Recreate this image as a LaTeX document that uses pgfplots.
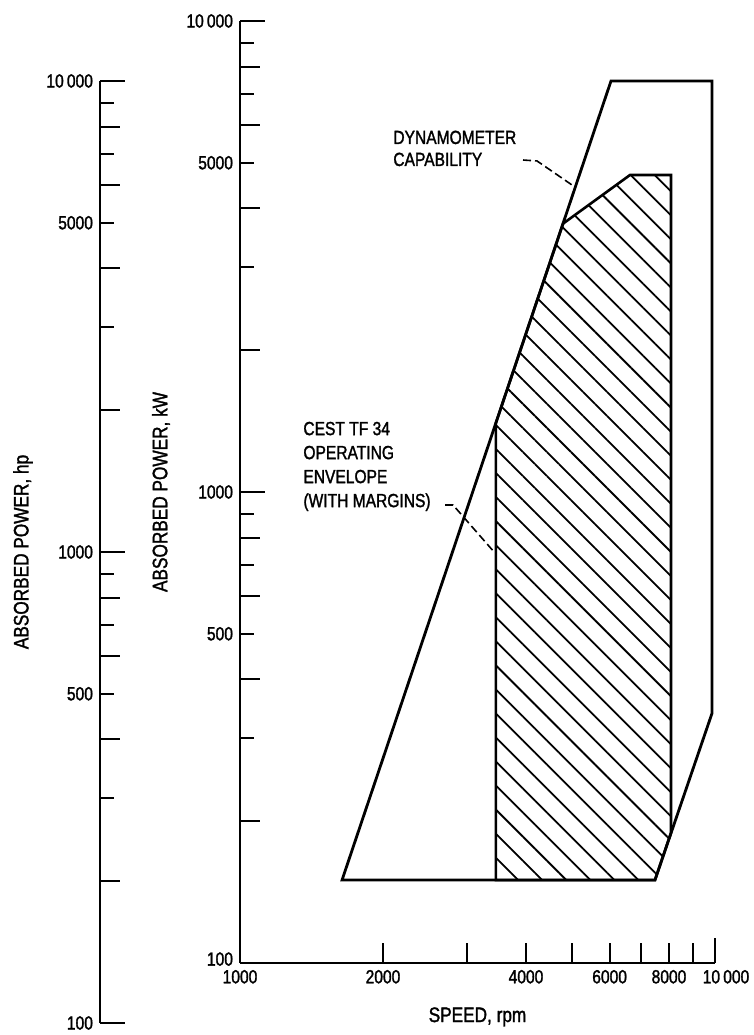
\documentclass[border=0pt]{standalone}
\usepackage{fontspec}
\setmainfont{Liberation Sans}[FakeStretch=0.82, FakeBold=1.5]
\usepackage{pgfplots}
\pgfplotsset{compat=1.18}
\usetikzlibrary{patterns.meta}

\begin{document}
\begin{tikzpicture}
\useasboundingbox (-120pt,-36pt) rectangle (257pt,481.5pt);

% horsepower scale
\begin{axis}[scale only axis, at={(-70pt,-30pt)}, anchor=south west,
  width=1pt, height=471pt, xmin=0, xmax=1, axis x line=none,
  ymode=log, ymin=100, ymax=10000,
  axis y line=left, tick align=inside,
  axis line style={-, line width=1pt},
  every tick/.style={black, line width=1pt},
  major tick length=12.5pt, minor tick length=10pt,
  ytick={100,1000,10000}, yticklabels={100,1000,10\,000},
  minor ytick={200,400,600,800,2000,4000,6000,8000},
  extra y ticks={300,500,700,900,3000,5000,7000,9000},
  extra y tick labels={,500,,,,5000,,},
  extra y tick style={major tick length=7pt},
  ticklabel style={font=\fontsize{9.5}{11}\selectfont},
  /pgf/number format/assume math mode=true,
  ylabel={ABSORBED POWER, hp},
  every axis y label/.style={at={(axis description cs:-38.5,0.5)},
    rotate=90, anchor=center, inner sep=0pt, font=\fontsize{10.5}{12}\selectfont}]
\addplot[draw=none] coordinates {(0.5,1000)};
\end{axis}

% short speed ticks at 3000, 5000, 7000, 9000
\begin{axis}[scale only axis, at={(0pt,0pt)}, anchor=south west,
  width=237.5pt, height=471pt,
  xmode=log, xmin=1000, xmax=10000, axis x line=bottom,
  ymode=log, ymin=100, ymax=10000, axis y line=none,
  tick align=inside, axis line style={-, line width=1pt},
  every tick/.style={black, line width=1pt},
  major tick length=4.5pt, minor xtick={},
  xtick={3000,5000,7000,9000}, xticklabels={}]
\addplot[draw=none] coordinates {(2000,1000)};
\end{axis}

% kW scale with the envelopes
\begin{axis}[scale only axis, at={(0pt,0pt)}, anchor=south west,
  width=237.5pt, height=471pt,
  xmode=log, xmin=1000, xmax=10000, axis x line=bottom,
  ymode=log, ymin=100, ymax=10000,
  axis y line=left, tick align=inside,
  axis line style={-, line width=1pt},
  every tick/.style={black, line width=1pt},
  major tick length=12.5pt, minor tick length=10pt,
  ytick={100,1000,10000}, yticklabels={\raisebox{4pt}{100},1000,10\,000},
  minor ytick={200,400,600,800,2000,4000,6000,8000},
  extra y ticks={300,500,700,900,3000,5000,7000,9000},
  extra y tick labels={,500,,,,5000,,},
  extra y tick style={major tick length=7pt},
  xtick={1000,10000}, xticklabels={1000,\hspace*{11pt}10\,000},
  extra x ticks={2000,4000,6000,8000},
  extra x tick labels={2000,4000,6000,8000},
  extra x tick style={major tick length=9pt},
  minor xtick={},
  ticklabel style={font=\fontsize{9.5}{11}\selectfont},
  /pgf/number format/assume math mode=true,
  ylabel={ABSORBED POWER, kW},
  every axis y label/.style={at={(axis description cs:-0.1663,0.5)},
    rotate=90, anchor=center, inner sep=0pt, font=\fontsize{10.5}{12}\selectfont},
  xlabel={SPEED, rpm},
  every axis x label/.style={at={(axis description cs:0.5,0)}, anchor=north,
    yshift=-22pt, inner sep=0pt, font=\fontsize{10.5}{12}\selectfont},
  clip=false]

% operating envelope (hatched)
\addplot[draw=black, line width=1.3pt,
  pattern={Lines[angle=-45, distance=8.5pt, line width=0.9pt]}]
  coordinates {(3458,150) (3458,1403) (4786,3713) (6624,4710)
               (8078,4710) (8078,189) (7476,150)} --cycle;

% dynamometer capability
\addplot[draw=black, line width=1.4pt]
  coordinates {(1640,150) (6040,7457) (9856,7457) (9856,339) (7476,150)} --cycle;

\node[anchor=west, align=left, inner sep=0pt,
  font=\fontsize{9.5}{11}\selectfont] at (rel axis cs:0.322,0.8647)
  {DYNAMOMETER\\CAPABILITY};
\draw[line width=0.8pt, dash pattern=on 4pt off 2pt]
  (rel axis cs:0.5958,0.8524) -- (rel axis cs:0.6253,0.8514) -- (rel axis cs:0.6989,0.8259);

\node[anchor=west, align=left, inner sep=0pt,
  font=\fontsize{9.5}{12}\selectfont] at (rel axis cs:0.1326,0.5271)
  {CEST TF 34\\OPERATING\\ENVELOPE\\(WITH MARGINS)};
\draw[line width=0.8pt, dash pattern=on 4pt off 2pt]
  (rel axis cs:0.4316,0.4862) -- (rel axis cs:0.4484,0.4862) -- (rel axis cs:0.5368,0.4352);
\end{axis}
\end{tikzpicture}
\end{document}
